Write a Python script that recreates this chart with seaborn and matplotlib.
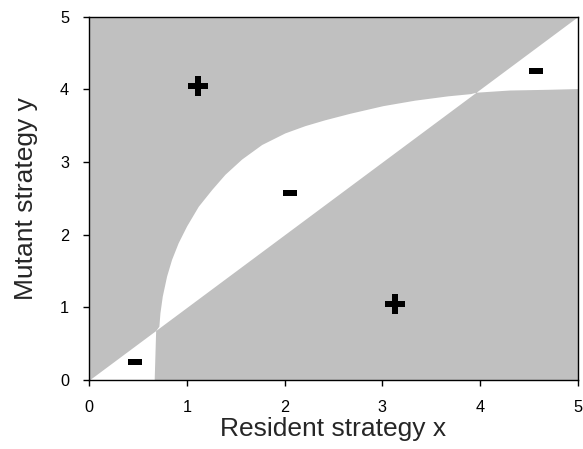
import numpy as np
import seaborn as sns
import matplotlib
matplotlib.use("Agg")
import matplotlib.pyplot as plt

# boundary of the negative (white) region
# white where y lies between the diagonal y = x and this curve
bound_x = [0.0, 0.665, 0.68, 0.713, 0.724, 0.748, 0.792, 0.843, 0.911, 0.997,
           1.116, 1.253, 1.389, 1.56, 1.765, 2.003, 2.208, 2.41, 2.668, 3.006,
           3.33, 3.67, 3.90, 3.96, 4.3, 4.7, 5.0]
bound_y = [0.0, 0.0, 0.68, 0.74, 0.925, 1.155, 1.43, 1.66, 1.89, 2.12,
           2.39, 2.62, 2.83, 3.04, 3.24, 3.40, 3.50, 3.58, 3.67, 3.775,
           3.85, 3.91, 3.94, 3.96, 3.99, 4.0, 4.01]

# sign labels
plus_x = [1.11, 3.13]
plus_y = [4.05, 1.045]
minus_x = [0.468, 2.06, 4.57]
minus_y = [0.254, 2.57, 4.25]

ticks = [0, 1, 2, 3, 4, 5]

sns.set_theme(style="ticks")
plt.rcParams['font.family'] = ['Liberation Sans', 'DejaVu Sans']

fig = plt.figure(figsize=(5.83, 4.49), dpi=100)
ax = fig.add_axes([0.153, 0.1537, 0.838, 0.8093])
ax.set_facecolor('#c0c0c0')

bx = np.array(bound_x)
ax.fill_between(bx, bx, np.array(bound_y), color='white', linewidth=0)

sns.scatterplot(x=plus_x, y=plus_y, marker='P', s=215, color='black',
                linewidth=0, ax=ax, zorder=3)
rect = [(-1, -0.45), (1, -0.45), (1, 0.45), (-1, 0.45)]
sns.scatterplot(x=minus_x, y=minus_y, marker=rect, s=90, color='black',
                linewidth=0, ax=ax, zorder=3)

ax.set_xlim(0, 5)
ax.set_ylim(0, 5)
ax.set_xticks(ticks)
ax.set_yticks(ticks)
ax.tick_params(direction='out', length=4.5, width=1, colors='black',
               labelsize=11.7, pad=10)
for s in ax.spines.values():
    s.set_color('black')
    s.set_linewidth(1)
ax.set_xlabel('Resident strategy x', fontsize=19, labelpad=1)
ax.set_ylabel('Mutant strategy y', fontsize=19, labelpad=16)

fig.savefig('out.png', dpi=100)
